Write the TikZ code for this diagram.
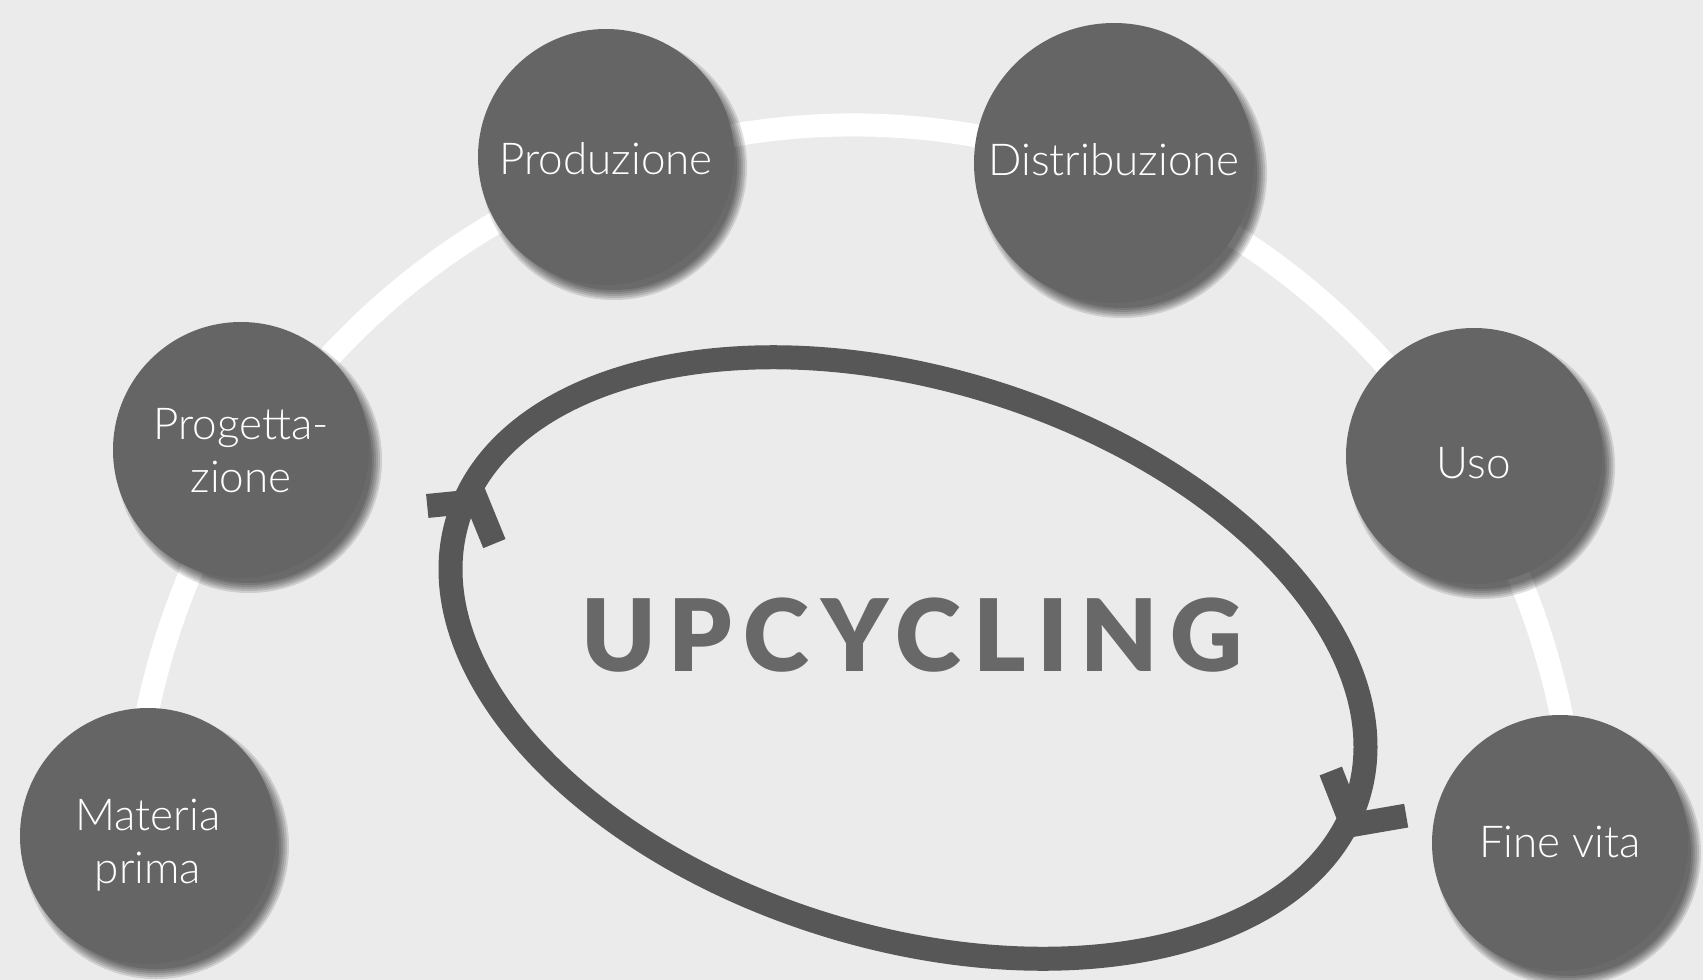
\documentclass[tikz,border=0pt]{standalone}
\usepackage{fontspec}
\setmainfont{Lato}
\newfontfamily\labelfont{Lato Light}
\newfontfamily\titlefont[LetterSpace=12]{Lato Black}
\definecolor{bg}{HTML}{EBEBEB}
\definecolor{disc}{HTML}{656565}
\definecolor{loopgrey}{HTML}{575757}
\definecolor{titlegrey}{HTML}{686868}
\pgfdeclarelayer{paper}
\pgfdeclarelayer{shade}
\pgfsetlayers{paper,shade,main}

\begin{document}
\begin{tikzpicture}[x=1pt,y=-1pt,
  stage/.style={circle, fill=disc, minimum size=256pt, inner sep=0pt,
    text=white, align=center, text height=60pt,
    font=\labelfont\fontsize{44}{53}\selectfont},
  softshade/.style={black, fill opacity=0.12},
  ring/.style={white, line width=23pt},
  loopline/.style={loopgrey, line width=24pt},
  barb/.style={loopgrey, line width=24pt, line join=miter}]

% stages of the product life cycle
\node[stage, text height=100pt, text depth=6pt] (mat) at (148,836) {Materia\\prima};
\node[stage, text height=100pt, text depth=16pt] (prog) at (241,450) {Progetta-\\zione};
\node[stage, text depth=26pt] (prod) at (606,157)  {Produzione};
\node[stage, text depth=36pt, minimum size=280pt] (dist) at (1114,163) {Distribuzione};
\node[stage, text depth=16pt] (uso)  at (1474,456) {Uso};
\node[stage, text depth=32pt] (fine) at (1560,843) {Fine vita};

% paper and the white track behind the stages
\begin{pgfonlayer}{paper}
  \fill[bg] (0,0) rectangle (1703,980);
  \coordinate (ringc) at (854,869);
  \draw[ring] (ringc) ++(172:723pt and 744pt)
    arc[start angle=172, end angle=8, x radius=723pt, y radius=744pt];
\end{pgfonlayer}
\useasboundingbox (0,0) rectangle (1703,980);

% soft drop shadows, down and to the right of each stage
\begin{pgfonlayer}{shade}
  \foreach \n/\r in {mat/128, prog/128, prod/128, dist/140, uso/128, fine/128} {
    \foreach \k in {0,...,5} {
      \fill[softshade] ([shift={(8,10)}]\n.center) circle[radius={(\r+5-2*\k)*1pt}];
    }
  }
\end{pgfonlayer}

% upcycling loop
\begin{scope}[shift={(908,658)}, rotate=-17.2]
  \draw[loopline] (0,0) ellipse [x radius=471pt, y radius=279pt];
\end{scope}

% arrow heads on the loop
\coordinate (tipL) at (477,501);
\coordinate (tipR) at (1352,825);
\draw[barb] (tipL) ++(185.7:50pt) -- (tipL) -- ++(292.2:46pt);
\draw[barb] (tipR) ++(111.5:58pt) -- (tipR) -- ++(9.8:55pt);

\node[text=titlegrey, font=\titlefont\fontsize{100}{100}\selectfont,
  anchor=base] (title) at (912,671) {UPCYCLING};
\end{tikzpicture}
\end{document}
